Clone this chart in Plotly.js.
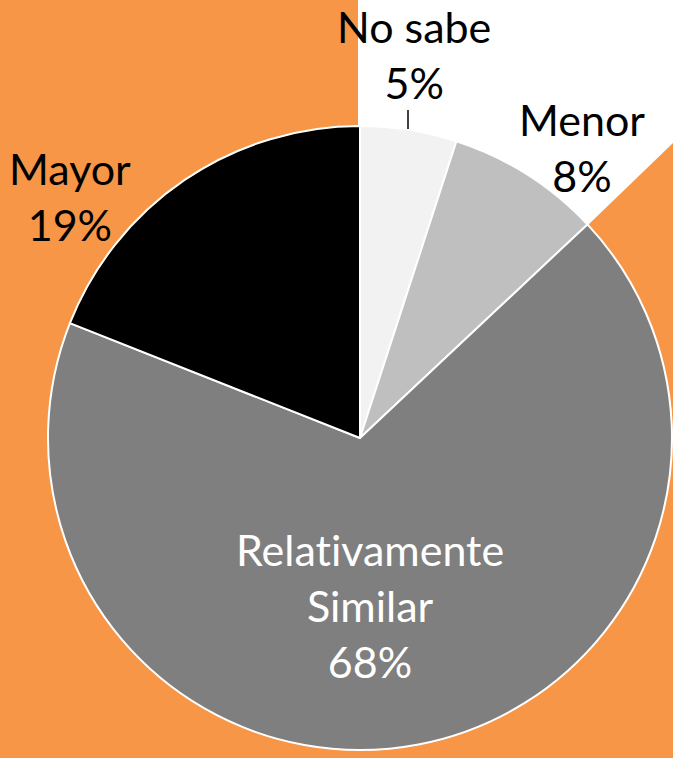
<!DOCTYPE html>
<html>
<head>
<meta charset="utf-8">
<script src="https://cdn.plot.ly/plotly-3.0.1.min.js"></script>
<style>html,body{margin:0;padding:0;background:#F79646;}#chart{width:673px;height:758px;}
text{font-variant-ligatures:none;font-feature-settings:"liga" 0,"clig" 0;}</style>
</head>
<body>
<div id="chart"></div>
<script>
const categories = ["No sabe", "Menor", "Relativamente<br>Similar", "Mayor"];
const values = [5, 8, 68, 19];
const colors = ["#F2F2F2", "#BFBFBF", "#7F7F7F", "#000000"];

const W = 673, H = 758;
const px = x => x / W;
const py = y => 1 - y / H;

// label anchor positions (pixels), one per category
const labelPos = [[414, 54], [582, 148], [370, 605], [70, 196]];
const labelColor = ["#000000", "#000000", "#FFFFFF", "#000000"];

const annotations = categories.map((c, i) => ({
  xref: "paper", yref: "paper",
  x: px(labelPos[i][0]), y: py(labelPos[i][1]),
  xanchor: "center", yanchor: "middle",
  text: c + "<br>" + values[i] + "%",
  showarrow: false,
  align: "center",
  font: {family: "Lato, 'Open Sans', sans-serif", size: 43, color: labelColor[i]}
}));

const data = [{
  type: "pie",
  labels: categories,
  values: values,
  sort: false,
  direction: "clockwise",
  rotation: 0,
  marker: {colors: colors, line: {color: "#FFFFFF", width: 2}},
  textinfo: "none",
  hoverinfo: "label+percent",
  showlegend: false,
  domain: {x: [48 / W, 672 / W], y: [8 / H, 632 / H]}
}];

const layout = {
  width: W, height: H,
  margin: {l: 0, r: 0, t: 0, b: 0},
  paper_bgcolor: "#F79646",
  plot_bgcolor: "#F79646",
  showlegend: false,
  shapes: [
    {type: "path", xref: "paper", yref: "paper", layer: "below",
     path: `M ${px(358)} ${py(0)} L ${px(673)} ${py(0)} L ${px(673)} ${py(143)} L ${px(588)} ${py(225)} L ${px(360)} ${py(438)} L ${px(358)} ${py(438)} Z`,
     fillcolor: "#FFFFFF", line: {width: 0}},
    {type: "line", xref: "paper", yref: "paper",
     x0: px(408), x1: px(408), y0: py(110), y1: py(129),
     line: {color: "#000000", width: 1.5}}
  ],
  annotations: annotations
};

Plotly.newPlot("chart", data, layout, {displayModeBar: false, staticPlot: true});
</script>
</body>
</html>
